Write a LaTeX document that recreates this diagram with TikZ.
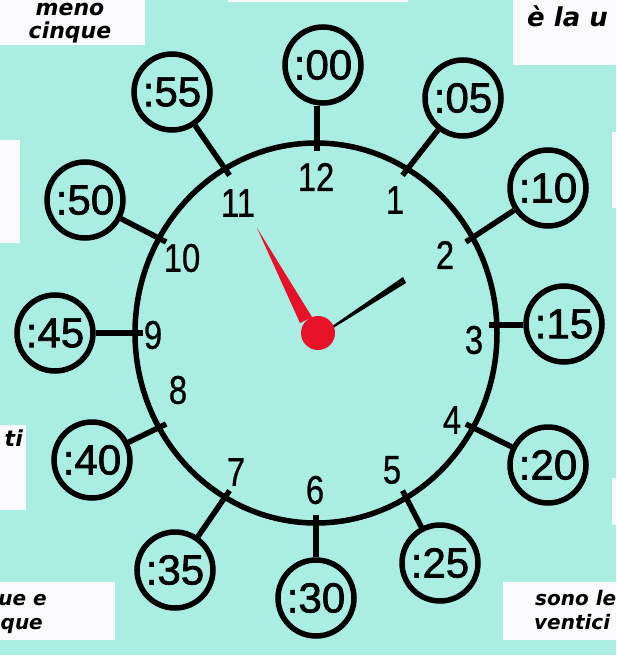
\documentclass[tikz,border=0pt]{standalone}
\usepackage{fontspec}
\setmainfont{Liberation Sans}
\newfontfamily\labfont{DejaVu Sans}
\newfontfamily\bubfont[FakeBold=1.6]{Liberation Sans}
\newfontfamily\numfont[FakeBold=0.8]{Liberation Sans}
\definecolor{mint}{RGB}{170,237,226}
\definecolor{hred}{RGB}{232,18,40}
\definecolor{boxw}{RGB}{250,250,252}
\begin{document}
\begin{tikzpicture}[x=1pt,y=-1pt,
  bubble/.style={circle,draw=black,line width=5.5pt,minimum size=76pt,inner sep=0pt,
    font=\bubfont\fontsize{42}{42}\selectfont},
  hournum/.style={inner sep=0pt,font=\numfont\fontsize{40}{40}\selectfont},
  stem/.style={line width=5.5pt},
  labbox/.style={fill=boxw},
  lab/.style={inner sep=0pt,font=\labfont\bfseries\itshape\fontsize{22}{26}\selectfont}
]
\useasboundingbox (0,0) rectangle (616,655);
\clip (0,0) rectangle (616,655);
\fill[mint] (0,0) rectangle (616,655);

% side boxes
\fill[labbox] (0,0) rectangle (145,45);
\fill[labbox] (228,0) rectangle (408,2);
\fill[labbox] (513,0) rectangle (616,65);
\fill[labbox] (0,140) rectangle (20,243);
\fill[labbox] (0,425) rectangle (26,510);
\fill[labbox] (0,582) rectangle (115,640);
\fill[labbox] (503,582) rectangle (616,640);
\fill[labbox] (612,132) rectangle (616,208);
\fill[labbox] (612,478) rectangle (616,525);

\node[lab,anchor=base] (l1) at (70,16) {meno};
\node[lab,anchor=base] (l2) at (70,39) {cinque};
\node[lab,anchor=base west,font=\labfont\bfseries\itshape\fontsize{26}{26}\selectfont] (l3) at (527,27) {è la u};
\node[lab,anchor=base east] (l4) at (23,446) {ti};
\node[lab,anchor=base east,font=\labfont\bfseries\itshape\fontsize{20}{24}\selectfont] (l5) at (47,605) {ue e};
\node[lab,anchor=base east,font=\labfont\bfseries\itshape\fontsize{20}{24}\selectfont] (l6) at (43,629) {que};
\node[lab,anchor=base west,font=\labfont\bfseries\itshape\fontsize{20}{24}\selectfont] (l7) at (535,605) {sono le};
\node[lab,anchor=base west,font=\labfont\bfseries\itshape\fontsize{20}{24}\selectfont] (l8) at (534,629) {ventici};

% clock face
\coordinate (c) at (316,333);
\draw[line width=5.5pt] (c) ellipse [x radius=181, y radius=190];
\foreach \h in {0,...,11}{
  \path (c) ++ ({173*cos(90-30*\h)},{-182*sin(90-30*\h)}) coordinate (t\h);
}
\coordinate (t3) at (489,325);
\coordinate (t0) at (317,151);

% minute bubbles
\node[bubble] (m00) at (323,65) {:00};
\node[bubble] (m05) at (463,98) {:05};
\node[bubble] (m10) at (548,188) {:10};
\node[bubble] (m15) at (564,324) {:15};
\node[bubble] (m20) at (548,465) {:20};
\node[bubble] (m25) at (440,563) {:25};
\node[bubble] (m30) at (316,598) {:30};
\node[bubble] (m35) at (175,570) {:35};
\node[bubble] (m40) at (92,460) {:40};
\node[bubble] (m45) at (55,333) {:45};
\node[bubble] (m50) at (85,200) {:50};
\node[bubble] (m55) at (172,92) {:55};

\draw[stem] (t0) -- (t0 |- m00.south);
\draw[stem] (t1) -- (m05);
\draw[stem] (t2) -- (m10);
\draw[stem] (t3) -- (t3 -| m15.west);
\draw[stem] (t4) -- (m20);
\draw[stem] (t5) -- (m25);
\draw[stem] (t6) -- (m30);
\draw[stem] (t7) -- (m35);
\draw[stem] (t8) -- (m40);
\draw[stem] (t9) -- (m45);
\draw[stem] (t10) -- (m50);
\draw[stem] (t11) -- (m55);

% hour numerals
\node[hournum] (h12) at (316,177) {\scalebox{0.82}[1]{12}};
\node[hournum] (h1) at (395,200) {\scalebox{0.82}[1]{1}};
\node[hournum] (h2) at (445,255) {\scalebox{0.82}[1]{2}};
\node[hournum] (h3) at (474,340) {\scalebox{0.82}[1]{3}};
\node[hournum] (h4) at (452,420) {\scalebox{0.82}[1]{4}};
\node[hournum] (h5) at (392,470) {\scalebox{0.82}[1]{5}};
\node[hournum] (h6) at (315,490) {\scalebox{0.82}[1]{6}};
\node[hournum] (h7) at (236,472) {\scalebox{0.82}[1]{7}};
\node[hournum] (h8) at (178,390) {\scalebox{0.82}[1]{8}};
\node[hournum] (h9) at (153,335) {\scalebox{0.82}[1]{9}};
\node[hournum] (h10) at (182,258) {\scalebox{0.82}[1]{10}};
\node[hournum] (h11) at (238,203) {\scalebox{0.82}[1]{11}};

% hands
\fill[black] (333,325.5) -- (403,277) -- (406,283) -- (334,327.5) -- cycle;
\fill[hred] (257,228) -- (300,323) -- (312,317) -- cycle;
\fill[hred] (318,333) circle (17);
\end{tikzpicture}
\end{document}
